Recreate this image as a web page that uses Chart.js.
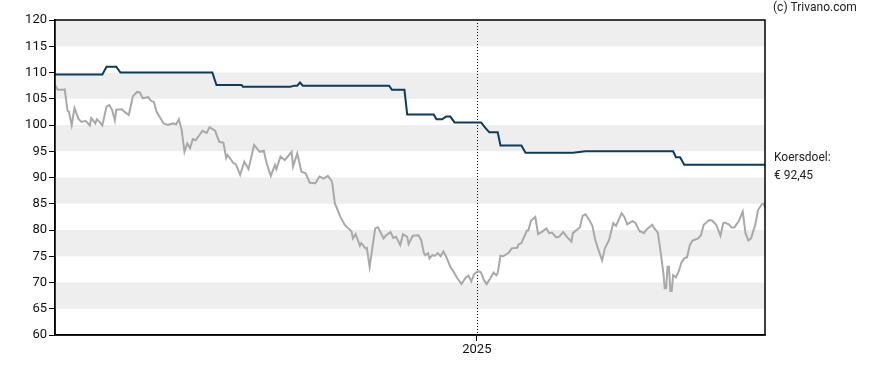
<!DOCTYPE html>
<html>
<head>
<meta charset="utf-8">
<script src="https://cdn.jsdelivr.net/npm/chart.js@4"></script>
<style>
  html, body { margin: 0; padding: 0; background: #fff; }
  #wrap { position: relative; width: 888px; height: 370px; }
</style>
</head>
<body>
<div id="wrap"><canvas id="chart" width="888" height="370"></canvas></div>
<script>
// days counted from start of the window (2024-03-04 = day 0)
const priceDays = [0, 2, 6, 7, 9, 10, 12, 14, 17, 19, 22, 25, 26, 29, 30, 32, 34, 37, 39, 41, 43, 44, 48, 50, 53, 56, 59, 61, 63, 67, 69, 71, 73, 78, 81, 85, 87, 89, 91, 93, 95, 97, 99, 101, 106, 109, 111, 115, 118, 121, 123, 124, 128, 130, 133, 136, 139, 143, 147, 150, 152, 155, 158, 159, 162, 165, 170, 171, 174, 177, 180, 183, 187, 190, 193, 196, 199, 201, 205, 208, 213, 214, 216, 219, 220, 223, 224, 226, 230, 232, 236, 238, 241, 243, 245, 248, 250, 253, 254, 257, 261, 263, 265, 266, 268, 269, 271, 273, 275, 277, 279, 281, 284, 286, 289, 292, 295, 297, 299, 301, 304, 306, 308, 310, 312, 315, 317, 318, 320, 322, 326, 328, 332, 333, 335, 339, 340, 342, 345, 347, 350, 353, 355, 357, 360, 362, 365, 368, 371, 372, 377, 379, 381, 384, 386, 388, 390, 393, 395, 398, 401, 403, 407, 409, 411, 415, 417, 420, 421, 423, 425, 429, 430, 433, 435, 437, 438, 439, 440, 441, 442, 443, 444, 446, 448, 450, 452, 454, 456, 458, 462, 464, 466, 470, 472, 475, 478, 480, 481, 484, 486, 488, 491, 494, 496, 498, 500, 503, 505, 508, 509, 510];
const priceValues = [107.6, 106.7, 106.7, 106.8, 102.7, 102.5, 100.0, 103.2, 101.1, 100.6, 100.8, 99.9, 101.3, 100.3, 101.1, 100.6, 99.9, 103.5, 103.8, 102.9, 100.9, 102.9, 103.0, 102.5, 101.9, 105.5, 106.3, 106.2, 105.1, 105.3, 104.6, 104.4, 102.5, 100.3, 100.0, 100.3, 100.1, 101.1, 99.0, 94.9, 96.5, 95.6, 97.3, 97.1, 98.9, 98.5, 99.6, 98.9, 96.8, 96.6, 93.7, 94.3, 92.8, 92.5, 90.5, 93.0, 91.6, 96.2, 94.9, 95.1, 92.7, 90.3, 92.4, 91.6, 94.0, 93.3, 94.9, 92.1, 94.6, 91.1, 90.8, 89.0, 88.9, 90.2, 89.8, 90.3, 89.2, 85.1, 82.5, 81.0, 79.7, 78.4, 79.2, 77.0, 77.5, 76.5, 76.6, 73.0, 80.3, 80.5, 78.4, 79.0, 79.6, 78.5, 78.7, 77.1, 79.2, 78.7, 77.3, 78.9, 79.0, 78.1, 75.6, 75.2, 75.6, 74.6, 75.2, 75.1, 75.6, 75.0, 75.9, 74.9, 73.0, 72.2, 70.8, 69.7, 70.9, 71.3, 70.2, 71.6, 72.2, 71.9, 70.5, 69.7, 70.5, 71.9, 71.4, 71.8, 75.1, 75.0, 75.7, 76.5, 76.6, 77.3, 77.5, 79.9, 79.9, 81.8, 82.5, 79.2, 79.7, 80.3, 79.4, 79.5, 78.6, 78.7, 79.6, 78.6, 77.8, 79.4, 80.5, 82.7, 83.0, 81.8, 80.8, 78.2, 76.5, 74.2, 76.5, 78.1, 81.3, 80.8, 83.2, 82.5, 81.1, 81.7, 81.3, 79.7, 79.7, 79.4, 80.1, 81.0, 80.5, 79.5, 75.9, 71.8, 68.9, 68.9, 73.0, 73.0, 68.4, 68.4, 71.4, 71.0, 72.1, 73.8, 74.6, 74.8, 77.1, 78.0, 78.4, 79.0, 81.0, 81.9, 81.8, 81.0, 78.9, 81.3, 81.4, 81.1, 80.5, 80.5, 81.6, 83.5, 79.4, 78.0, 78.4, 81.0, 83.8, 85.0, 85.0, 84.4];

const targetDays = [0, 34, 37, 44, 47, 113, 116, 134, 135, 169, 172, 174, 176, 178, 240, 242, 251, 253, 272, 274, 278, 281, 284, 287, 306, 309, 312, 318, 320, 335, 338, 372, 381, 444, 446, 449, 452, 510];
const targetValues = [109.6, 109.6, 111.1, 111.1, 110.0, 110.0, 107.6, 107.6, 107.3, 107.3, 107.5, 107.5, 108.1, 107.5, 107.5, 106.7, 106.7, 102.0, 102.0, 101.1, 101.1, 101.6, 101.6, 100.5, 100.5, 99.5, 98.6, 98.6, 96.1, 96.1, 94.7, 94.7, 95.0, 95.0, 93.85, 93.85, 92.45, 92.45];

const yearTickDay = 303;
const yearLabel = '2025';
const yMin = 60, yMax = 120, yStep = 5;
const copyrightText = '(c) Trivano.com';
const targetLabel = 'Koersdoel:';
const targetValueText = '€ 92,45';

const FONT = 'Roboto, "Liberation Sans", Arial, sans-serif';

const bandsPlugin = {
  id: 'bands',
  beforeDatasetsDraw(chart) {
    const { ctx, chartArea, scales } = chart;
    const y = scales.y;
    ctx.save();
    ctx.fillStyle = '#eeeeee';
    for (let v = yMax; v > yMin; v -= 2 * yStep) {
      const top = y.getPixelForValue(v);
      const bot = y.getPixelForValue(v - yStep);
      ctx.fillRect(chartArea.left, top, chartArea.right - chartArea.left, bot - top);
    }
    // dotted year line
    const xp = Math.round(scales.x.getPixelForValue(yearTickDay)) + 0.5;
    ctx.strokeStyle = '#000';
    ctx.lineWidth = 1;
    ctx.setLineDash([1, 2]);
    ctx.beginPath();
    ctx.moveTo(xp, chartArea.top);
    ctx.lineTo(xp, chartArea.bottom);
    ctx.stroke();
    ctx.restore();
  },
  afterDraw(chart) {
    const { ctx, chartArea, scales } = chart;
    ctx.save();
    ctx.strokeStyle = '#000';
    ctx.lineWidth = 1.5;
    ctx.strokeRect(chartArea.left, chartArea.top, chartArea.right - chartArea.left, chartArea.bottom - chartArea.top);
    ctx.fillStyle = '#222';
    ctx.font = '12px ' + FONT;
    ctx.textBaseline = 'middle';
    ctx.textAlign = 'left';
    ctx.fillText(copyrightText, chartArea.right + 8, 8);
    const ty = scales.y.getPixelForValue(targetValues[targetValues.length - 1]);
    ctx.fillText(targetLabel, chartArea.right + 9, ty - 7);
    ctx.fillText(targetValueText, chartArea.right + 9, ty + 11);
    ctx.restore();
  }
};

new Chart(document.getElementById('chart').getContext('2d'), {
  type: 'line',
  data: {
    datasets: [
      {
        label: 'Koers',
        data: priceDays.map((d, i) => ({ x: d, y: priceValues[i] })),
        borderColor: '#a9a9a9',
        borderWidth: 2,
        pointRadius: 0,
        tension: 0,
        fill: false
      },
      {
        label: 'Koersdoel',
        data: targetDays.map((d, i) => ({ x: d, y: targetValues[i] })),
        borderColor: '#0e3a5c',
        borderWidth: 2,
        pointRadius: 0,
        tension: 0,
        fill: false
      }
    ]
  },
  options: {
    responsive: false,
    animation: false,
    layout: { padding: { top: 20, right: 123, left: 0, bottom: 0 } },
    plugins: { legend: { display: false }, tooltip: { enabled: false } },
    scales: {
      x: {
        type: 'linear',
        min: priceDays[0],
        max: priceDays[priceDays.length - 1],
        afterBuildTicks(scale) { scale.ticks = [{ value: yearTickDay }]; },
        afterFit(scale) { scale.height = 35; },
        ticks: {
          callback: () => yearLabel,
          color: '#111',
          font: { family: FONT, size: 13 },
          padding: 1,
          maxRotation: 0
        },
        grid: { drawOnChartArea: false, drawTicks: true, tickLength: 6, color: '#000' },
        border: { color: '#000', width: 1.5 }
      },
      y: {
        min: yMin,
        max: yMax,
        afterFit(scale) { scale.width = 55; },
        ticks: {
          stepSize: yStep,
          color: '#111',
          font: { family: FONT, size: 13 },
          padding: 2
        },
        grid: { drawOnChartArea: false, drawTicks: true, tickLength: 6, color: '#000' },
        border: { color: '#000', width: 1.5 }
      }
    }
  },
  plugins: [bandsPlugin]
});
</script>
</body>
</html>
